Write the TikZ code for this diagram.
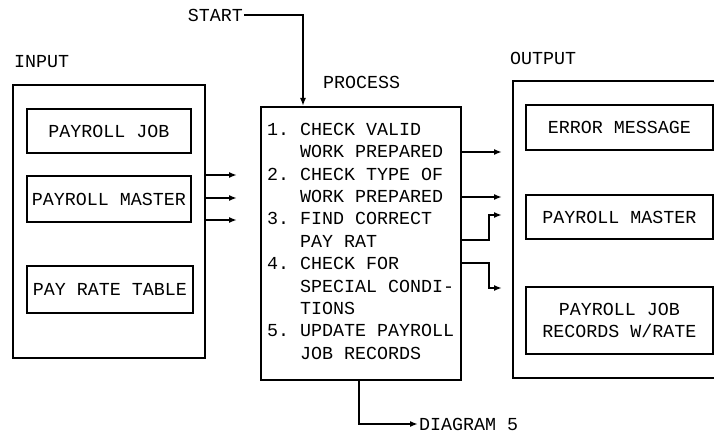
\documentclass[tikz,border=0pt]{standalone}
\usepackage{fontspec}
\setmonofont{Liberation Mono}
\usetikzlibrary{arrows.meta,calc}

\tikzset{every picture/.style={line width=1.5pt}}
\tikzset{
  lbl/.style={font=\ttfamily\frenchspacing\fontsize{13.75}{16.8}\selectfont, inner sep=0},
  boxnode/.style={draw, line width=1.5, lbl, align=center},
  sized/.style 2 args={minimum width=#1*0.75pt, minimum height=#2*0.75pt},
  flow/.style={line width=1.5, -{Latex[length=6pt,width=4.5pt]}},
}

\begin{document}
\begin{tikzpicture}[x=0.75pt,y=0.75pt,yscale=-1,xscale=1]
\useasboundingbox (0,0) rectangle (714,435);
\clip (0,0) rectangle (714,435);

% Input side
\node [lbl, anchor=west] (inputlbl) at (13,62) {INPUT};
\node [boxnode, sized={192}{273}] (inbox) at (109,221.5) {};
\node [boxnode, sized={164}{44}] (payjob) at (109,131) {PAYROLL JOB};
\node [boxnode, sized={164}{46}] (paymaster) at (109,199) {PAYROLL MASTER};
\node [boxnode, sized={166}{47}] (ratetable) at (110,289.5) {PAY RATE TABLE};

% Process
\node [lbl, anchor=west] (proclbl) at (322,82) {PROCESS};
\node [boxnode, sized={200}{273}] (proc) at (361,243.5) {};
\node [lbl, align=left, anchor=north west] (steps) at (266,122) {1.\ CHECK VALID\\\phantom{1.\ }WORK PREPARED\\2.\ CHECK TYPE OF\\\phantom{2.\ }WORK PREPARED\\3.\ FIND CORRECT\\\phantom{3.\ }PAY RAT\\4.\ CHECK FOR\\\phantom{4.\ }SPECIAL CONDI-\\\phantom{4.\ }TIONS\\5.\ UPDATE PAYROLL\\\phantom{5.\ }JOB RECORDS};

% Start
\node [lbl, anchor=east] (start) at (244,15) {START};
\coordinate (startin) at ($(proc.north west)+(43,0)$);
\draw [flow] (start.east) -| (startin);

% Input arrows
\foreach \y/\n in {175/a,198/b,220/c} {
  \coordinate (in\n) at (237,\y);
  \draw [flow] (in\n -| inbox.east) -- (in\n);
}

% Output side
\node [lbl, anchor=west] (outputlbl) at (509,58) {OUTPUT};
\node [boxnode, sized={234}{297}] (outbox) at (630,229.5) {};
\node [boxnode, sized={187}{45}] (errmsg) at (619.5,127.5) {ERROR MESSAGE};
\node [boxnode, sized={187}{44}] (outmaster) at (619.5,217) {PAYROLL MASTER};
\node [boxnode, sized={187}{67}] (jobrecs) at (619.5,320.5) {PAYROLL JOB\\RECORDS W/RATE};

% Output arrows
\coordinate (outa) at (502,152);
\coordinate (outb) at (502,197);
\coordinate (outc) at (502,215);
\coordinate (outd) at (502,288);
\draw [flow] (outa -| proc.east) -- (outa);
\draw [flow] (outb -| proc.east) -- (outb);
\draw [flow] (proc.east |- 0,240) -- ++(27,0) |- (outc);
\draw [flow] (proc.east |- 0,263) -- ++(27,0) |- (outd);

% Bottom
\node [lbl, anchor=west] (diag) at (418,424) {DIAGRAM 5};
\draw [flow] ($(proc.south west)+(99,0)$) |- (diag.west);

\end{tikzpicture}
\end{document}
